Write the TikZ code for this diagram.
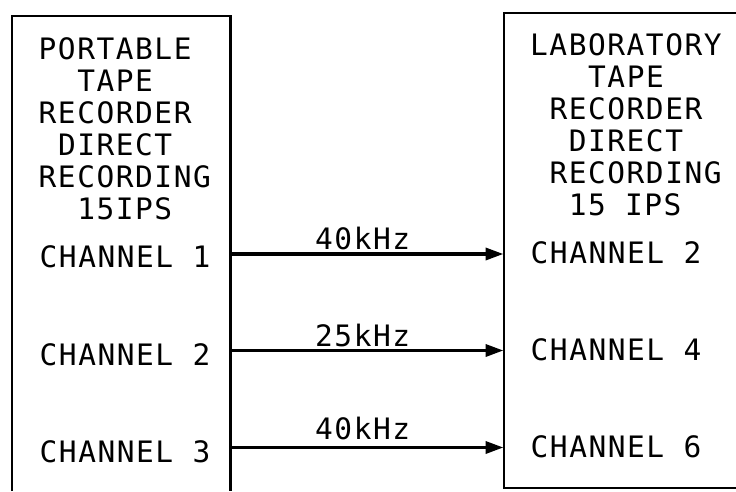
\documentclass[tikz,border=0pt]{standalone}
\usepackage{fontspec}
\usetikzlibrary{arrows.meta}
\newfontfamily\lett[LetterSpace=5.2]{DejaVu Sans Mono}
\begin{document}
\begin{tikzpicture}[x=1pt,y=-1pt,
  txt/.style={font=\lett\fontsize{29.5}{32}\selectfont, inner sep=0pt, anchor=base west},
  boxline/.style={line width=2.2pt, line cap=butt, line join=miter},
  sig/.style={line width=3.5pt, -{Triangle[length=18pt,width=12pt]}, shorten >=0.5pt}]
\useasboundingbox (0,0) rectangle (736,491);
% boxes (cut by the picture's edges)
\draw[boxline] (12,491) -- (12,16) -- (230.5,16) -- (230.5,491);
\draw[boxline] (736,13.3) -- (504,13.3) -- (504,487.7) -- (736,487.7);
% left block text
\node[txt] (l1) at (38.5,59) {PORTABLE};
\node[txt] (l2) at (77.1,91) {TAPE};
\node[txt] (l3) at (38.5,123) {RECORDER};
\node[txt] (l4) at (57.8,155) {DIRECT};
\node[txt] (l5) at (38.5,187) {RECORDING};
\node[txt] (l6) at (77.1,219) {15IPS};
\node[txt] (lc1) at (39.5,267) {CHANNEL 1};
\node[txt] (lc2) at (39.5,365) {CHANNEL 2};
\node[txt] (lc3) at (39.5,462) {CHANNEL 3};
% right block text
\node[txt] (r1) at (530,55) {LABORATORY};
\node[txt] (r2) at (588,87) {TAPE};
\node[txt] (r3) at (549.3,119) {RECORDER};
\node[txt] (r4) at (568.6,151) {DIRECT};
\node[txt] (r5) at (549.3,183) {RECORDING};
\node[txt] (r6) at (568.6,215) {15 IPS};
\node[txt] (rc1) at (530.5,263) {CHANNEL 2};
\node[txt] (rc2) at (530.5,360) {CHANNEL 4};
\node[txt] (rc3) at (530.5,457) {CHANNEL 6};
% connector end points on the box edges
\coordinate (s1) at (230.5,254);
\coordinate (e1) at (504,254);
\coordinate (s2) at (230.5,350.5);
\coordinate (e2) at (504,350.5);
\coordinate (s3) at (230.5,447.5);
\coordinate (e3) at (504,447.5);
\draw[sig] (s1) -- (e1);
\draw[sig] (s2) -- (e2);
\draw[sig] (s3) -- (e3);
% frequency labels
\node[txt] (f1) at (315,249) {40kHz};
\node[txt] (f2) at (315,346) {25kHz};
\node[txt] (f3) at (315,439) {40kHz};
\end{tikzpicture}
\end{document}
